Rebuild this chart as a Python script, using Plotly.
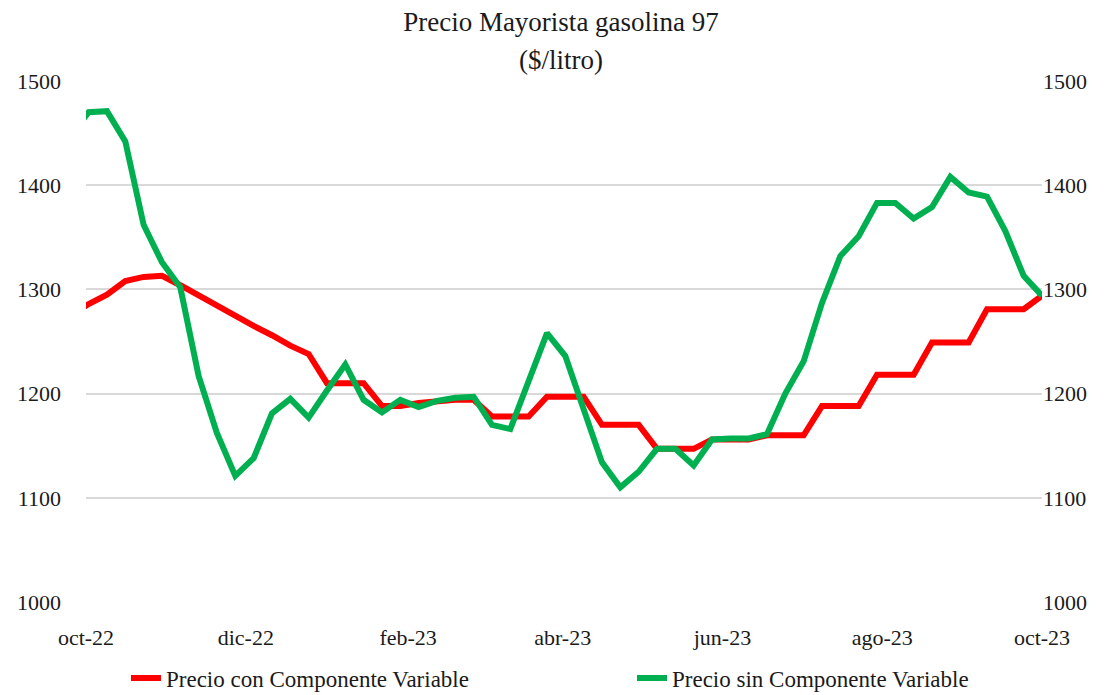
import plotly.graph_objects as go

dates = ["2022-09-25", "2022-10-02", "2022-10-09", "2022-10-16", "2022-10-23", "2022-10-30",
         "2022-11-06", "2022-11-13", "2022-11-20", "2022-11-27", "2022-12-04", "2022-12-11",
         "2022-12-18", "2022-12-25", "2023-01-01", "2023-01-08", "2023-01-15", "2023-01-22",
         "2023-01-29", "2023-02-05", "2023-02-12", "2023-02-19", "2023-02-26", "2023-03-05",
         "2023-03-12", "2023-03-19", "2023-03-26", "2023-04-02", "2023-04-09", "2023-04-16",
         "2023-04-23", "2023-04-30", "2023-05-07", "2023-05-14", "2023-05-21", "2023-05-28",
         "2023-06-04", "2023-06-11", "2023-06-18", "2023-06-25", "2023-07-02", "2023-07-09",
         "2023-07-16", "2023-07-23", "2023-07-30", "2023-08-06", "2023-08-13", "2023-08-20",
         "2023-08-27", "2023-09-03", "2023-09-10", "2023-09-17", "2023-09-24", "2023-10-01"]

precio_con = [1275,
              1286, 1295, 1308, 1312, 1313, 1304, 1294, 1284, 1275, 1265,
              1256, 1246, 1238, 1210, 1210, 1210, 1188, 1188, 1191, 1193,
              1194, 1194, 1178, 1178, 1178, 1197, 1197, 1197, 1170, 1170,
              1170, 1147, 1147, 1147, 1156, 1156, 1156, 1160, 1160, 1160,
              1188, 1188, 1188, 1218, 1218, 1218, 1249, 1249, 1249, 1281,
              1281, 1281, 1294]

precio_sin = [1447,
              1470, 1471, 1442, 1362, 1326, 1302, 1217, 1162, 1121, 1138,
              1181, 1195, 1177, 1203, 1228, 1194, 1182, 1194, 1187, 1193,
              1196, 1197, 1170, 1166, 1212, 1258, 1236, 1185, 1134, 1110,
              1125, 1147, 1147, 1131, 1156, 1157, 1157, 1161, 1200, 1231,
              1287, 1332, 1351, 1383, 1383, 1368, 1379, 1408, 1393, 1389,
              1356, 1313, 1294]

tick_dates = ["2022-10-01", "2022-12-01", "2023-02-01", "2023-04-01",
              "2023-06-01", "2023-08-01", "2023-10-01"]
tick_labels = ["oct-22", "dic-22", "feb-23", "abr-23", "jun-23", "ago-23", "oct-23"]

y_ticks = [1000, 1100, 1200, 1300, 1400, 1500]

FONT = "Liberation Serif"
TXT = "#1a1a1a"
# the page body adds an 8px offset, so the figure is 8px smaller and shifted
OFF = 8
W, H = 1118 - OFF, 695 - OFF

fig = go.Figure()
fig.add_trace(go.Scatter(x=dates, y=precio_con, mode="lines",
                         name="Precio con Componente Variable", legend="legend",
                         line=dict(color="#ff0000", width=6)))
fig.add_trace(go.Scatter(x=dates, y=precio_sin, mode="lines",
                         name="Precio sin Componente Variable", legend="legend2",
                         line=dict(color="#00b050", width=6)))
# invisible trace to activate the right-hand axis
fig.add_trace(go.Scatter(x=dates, y=precio_con, mode="lines", yaxis="y2",
                         showlegend=False, hoverinfo="skip", opacity=0,
                         line=dict(width=0)))

leg_common = dict(orientation="h", xanchor="left", yanchor="middle",
                  xref="container", yref="container", y=1 - (678 - OFF) / H,
                  font=dict(family=FONT, size=23, color=TXT),
                  bgcolor="rgba(0,0,0,0)")

px_l, px_r, px_t, px_b = 86 - OFF, 1042 - OFF, 81 - OFF, 602 - OFF
pw, ph = px_r - px_l, px_b - px_t

fig.update_layout(
    width=W, height=H,
    margin=dict(l=px_l, r=W - px_r, t=px_t, b=H - px_b, autoexpand=False),
    paper_bgcolor="white", plot_bgcolor="white",
    font=dict(family=FONT, size=22, color=TXT),
    title=dict(text="Precio Mayorista gasolina 97", x=(561 - OFF) / W, xref="container",
               xanchor="center", y=1 - (22 - OFF) / H, yanchor="middle", yref="container",
               font=dict(family=FONT, size=27, color=TXT), automargin=False),
    annotations=[dict(text="($/litro)", xref="paper", yref="paper",
                      x=(561 - 86) / pw, y=(602 - 60) / ph,
                      xanchor="center", yanchor="middle", showarrow=False,
                      font=dict(family=FONT, size=27, color=TXT))],
    xaxis=dict(type="date", range=["2022-10-01", "2023-10-01"],
               tickmode="array", tickvals=tick_dates, ticktext=tick_labels,
               showgrid=False, zeroline=False, showline=False, ticks="",
               automargin=False,
               ticklabelstandoff=20, tickfont=dict(family=FONT, size=22, color=TXT)),
    yaxis=dict(range=[1000, 1500], tickmode="array", tickvals=y_ticks,
               showgrid=True, gridcolor="#d9d9d9", gridwidth=1.5,
               zeroline=False, showline=False, ticks="", automargin=False,
               ticklabelstandoff=24, tickfont=dict(family=FONT, size=22, color=TXT)),
    yaxis2=dict(range=[1000, 1500], tickmode="array", tickvals=y_ticks,
                overlaying="y", side="right", showgrid=False, zeroline=False,
                showline=False, ticks="", ticklabelstandoff=0, automargin=False,
                tickfont=dict(family=FONT, size=22, color=TXT)),
    legend=dict(x=(126 - OFF) / W, **leg_common),
    legend2=dict(x=(632 - OFF) / W, **leg_common),
    showlegend=True,
)

fig.write_html("out.html")
